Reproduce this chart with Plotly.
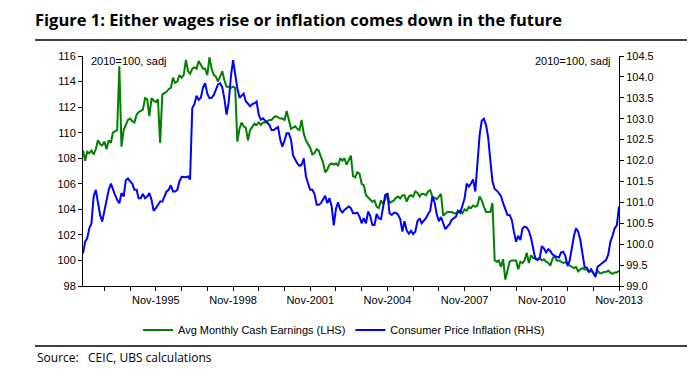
import pandas as pd
import plotly.graph_objects as go

# ---------------- data (monthly, Jan-1993 .. Nov-2013) ----------------
start_month = "1993-01-01"

wages = [
    # 1993
    108.6, 107.8, 108.5, 108.4, 108.6, 108.3, 108.7, 109.4, 109.1, 109.0, 109.3, 108.7,
    # 1994
    109.4, 109.2, 110.0, 110.1, 110.2, 115.2, 108.9, 110.2, 110.6, 111.0, 111.1, 110.9,
    # 1995
    110.8, 111.4, 111.6, 111.7, 111.8, 112.7, 112.6, 111.3, 112.7, 112.5, 112.4, 112.6,
    # 1996
    109.2, 113.0, 113.1, 113.2, 113.4, 113.5, 114.3, 113.9, 114.0, 114.5, 114.3, 114.5,
    # 1997
    115.7, 114.8, 114.6, 115.0, 115.1, 115.0, 115.6, 115.3, 115.0, 115.0, 114.5, 115.9,
    # 1998
    115.0, 114.5, 114.4, 114.0, 114.4, 114.8, 114.1, 113.6, 113.6, 113.5, 113.6, 113.5,
    # 1999
    109.3, 110.3, 110.8, 110.5, 110.4, 109.4, 110.2, 110.5, 110.7, 110.6, 110.8, 110.6,
    # 2000
    110.8, 110.8, 110.9, 111.0, 111.0, 111.2, 111.3, 111.2, 111.1, 111.1, 111.0, 111.7,
    # 2001
    111.0, 110.3, 110.4, 110.5, 110.3, 110.2, 111.0, 109.9, 109.4, 109.1, 108.8, 108.3,
    # 2002
    108.4, 108.7, 108.6, 108.1, 107.7, 106.9, 107.1, 107.5, 107.6, 107.5, 107.6, 107.4,
    # 2003
    108.0, 107.8, 108.0, 107.5, 107.9, 108.2, 106.6, 106.5, 106.9, 106.8, 106.0, 105.9,
    # 2004
    105.1, 104.9, 104.8, 104.6, 104.7, 104.2, 104.1, 104.7, 104.4, 104.8, 105.2, 104.5,
    # 2005
    104.6, 104.7, 104.9, 105.0, 104.85, 105.1, 105.1, 104.6, 105.0, 105.1, 105.0, 105.4,
    # 2006
    105.3, 105.0, 105.2, 105.2, 105.1, 105.4, 105.5, 105.0, 104.9, 104.8, 105.0, 105.2,
    # 2007
    103.5, 103.7, 103.8, 103.8, 103.8, 103.7, 103.7, 103.8, 103.9, 103.7, 104.0, 103.9,
    # 2008
    104.2, 104.1, 104.3, 104.2, 104.3, 105.0, 104.7, 104.2, 103.8, 103.8, 103.8, 104.5,
    # 2009
    100.0, 99.9, 100.0, 99.5, 100.1, 98.5, 99.2, 99.9, 100.0, 100.0, 100.0, 99.3,
    # 2010
    99.9, 99.8, 100.0, 100.6, 99.8, 100.4, 100.2, 100.2, 100.1, 100.2, 100.0, 100.1,
    # 2011
    99.9, 99.8, 99.6, 100.1, 100.4, 100.0, 100.0, 99.9, 99.8, 99.85, 99.8, 99.6,
    # 2012
    99.5, 99.4, 99.5, 99.15, 99.3, 99.4, 99.3, 99.3, 99.1, 99.2, 99.0, 98.8,
    # 2013
    99.2, 99.0, 99.0, 99.1, 99.1, 99.2, 99.05, 98.95, 99.05, 99.05, 99.2,
]

cpi = [
    # 1993
    99.78, 100.06, 100.14, 100.38, 100.5, 101.14, 101.3, 101.0, 100.7, 100.54, 100.82, 101.1,
    # 1994
    101.3, 101.45, 101.3, 101.18, 101.06, 100.98, 101.22, 101.14, 101.53, 101.57, 101.5, 101.45,
    # 1995
    101.3, 101.3, 101.1, 101.1, 101.2, 101.1, 101.14, 101.22, 101.06, 100.8, 100.86, 100.95,
    # 1996
    101.02, 101.02, 101.14, 101.26, 101.3, 101.41, 101.26, 101.26, 101.3, 101.5, 101.61, 101.61,
    # 1997
    101.6, 101.62, 101.55, 103.25, 103.35, 103.55, 103.45, 103.5, 103.75, 103.85, 103.6, 103.49,
    # 1998
    103.5, 103.57, 103.69, 103.82, 103.85, 103.75, 103.48, 103.1, 103.4, 104.0, 104.4, 104.05,
    # 1999
    103.73, 103.5, 103.55, 103.6, 103.42, 103.37, 103.3, 103.35, 103.37, 103.41, 103.09, 102.98,
    # 2000
    103.01, 102.95, 102.9, 102.85, 102.73, 102.73, 102.77, 102.8, 102.5, 102.33, 102.48, 102.65,
    # 2001
    102.65, 102.5, 102.13, 102.03, 101.93, 101.87, 101.9, 102.05, 101.62, 101.45, 101.3, 101.3,
    # 2002
    101.2, 100.94, 100.94, 100.98, 101.06, 101.16, 100.98, 101.1, 100.9, 100.45, 100.85, 101.0,
    # 2003
    100.82, 100.76, 100.82, 100.86, 100.9, 100.86, 100.74, 100.74, 100.75, 100.66, 100.5, 100.62,
    # 2004
    100.5, 100.78, 100.68, 100.46, 100.46, 100.72, 100.62, 100.6, 100.94, 101.18, 101.2, 100.74,
    # 2005
    100.7, 100.75, 100.75, 100.7, 100.6, 100.3, 100.55, 100.33, 100.25, 100.32, 100.24, 100.3,
    # 2006
    100.55, 100.62, 100.5, 100.56, 100.62, 100.72, 100.8, 101.14, 101.0, 100.72, 100.55, 100.65,
    # 2007
    100.5, 100.36, 100.42, 100.48, 100.58, 100.62, 100.66, 100.8, 100.75, 100.92, 101.1, 101.45,
    # 2008
    101.38, 101.45, 101.55, 101.26, 101.85, 102.6, 102.95, 103.0, 102.85, 102.55, 102.0, 101.5,
    # 2009
    101.32, 101.28, 101.22, 101.15, 100.98, 100.85, 100.7, 100.7, 100.58, 100.3, 100.06, 100.2,
    # 2010
    100.1, 100.38, 100.42, 100.4, 100.32, 100.15, 99.9, 99.65, 99.62, 99.66, 99.95, 99.9,
    # 2011
    99.8, 99.88, 99.84, 99.76, 99.72, 99.7, 99.68, 99.8, 99.82, 99.72, 99.48, 99.6,
    # 2012
    99.95, 100.2, 100.38, 100.3, 100.1, 99.7, 99.45, 99.44, 99.34, 99.4, 99.3, 99.22,
    # 2013
    99.46, 99.5, 99.54, 99.58, 99.62, 99.75, 100.05, 100.2, 100.38, 100.45, 100.9,
]

major_ticks = ["1995-11-01", "1998-11-01", "2001-11-01", "2004-11-01",
               "2007-11-01", "2010-11-01", "2013-11-01"]
major_labels = ["Nov-1995", "Nov-1998", "Nov-2001", "Nov-2004",
                "Nov-2007", "Nov-2010", "Nov-2013"]
minor_ticks = ["1993-11-01", "1994-11-01", "1996-11-01", "1997-11-01",
               "1999-11-01", "2000-11-01", "2002-11-01", "2003-11-01",
               "2005-11-01", "2006-11-01", "2008-11-01", "2009-11-01",
               "2011-11-01", "2012-11-01"]

left_ticks = [98, 100, 102, 104, 106, 108, 110, 112, 114, 116]
right_ticks = [99.0, 99.5, 100.0, 100.5, 101.0, 101.5, 102.0, 102.5, 103.0, 103.5, 104.0, 104.5]

dates = pd.date_range(start_month, periods=len(wages), freq="MS")

GREEN = "#008000"
BLUE = "#0000FF"
FONT = "Liberation Sans, Arial, sans-serif"
HUM = "Open Sans, sans-serif"

# page body has an 8px margin: figure is 692x368 so it fits the window
OFF = 8
W, H = 700 - OFF, 376 - OFF
PL, PR, PT, PB = 83, 619, 56, 286          # plot area in window pixels
PW, PH = PR - PL, PB - PT


def px_x(x):
    return (x - PL) / PW


def px_y(y):
    return (PB - y) / PH


fig = go.Figure()
fig.add_trace(go.Scatter(x=dates, y=wages, mode="lines",
                         name="Avg Monthly Cash Earnings (LHS)",
                         line=dict(color=GREEN, width=2)))
fig.add_trace(go.Scatter(x=dates, y=cpi, mode="lines", yaxis="y2",
                         name="Consumer Price Inflation (RHS)",
                         line=dict(color=BLUE, width=2)))

axis_common = dict(showgrid=False, zeroline=False, showline=True,
                   linecolor="black", linewidth=1, ticks="outside",
                   ticklen=4, tickcolor="black",
                   tickfont=dict(family=FONT, size=11, color="black"))

fig.update_layout(
    width=W, height=H,
    margin=dict(l=PL - OFF, r=W - (PR - OFF), t=PT - OFF, b=H - (PB - OFF)),
    paper_bgcolor="white", plot_bgcolor="white",
    font=dict(family=FONT, size=11, color="black"),
    showlegend=True,
    legend=dict(orientation="h", x=0.487, xanchor="center", y=px_y(330),
                yanchor="middle", itemwidth=30,
                font=dict(family=FONT, size=11, color="black"),
                bgcolor="rgba(0,0,0,0)", traceorder="normal"),
    xaxis=dict(type="date", range=[dates[0], dates[-1]],
               tickvals=major_ticks, ticktext=major_labels,
               minor=dict(tickvals=minor_ticks, ticks="outside", ticklen=4,
                          tickcolor="black"),
               **axis_common),
    yaxis=dict(range=[98, 116], tickvals=left_ticks, **axis_common),
    yaxis2=dict(range=[99, 104.5], tickvals=right_ticks, tickformat=".1f",
                overlaying="y", side="right", **axis_common),
    title=dict(text="<b>Figure 1: Either wages rise or inflation comes down in the future</b>",
               x=(35 - OFF) / W, xanchor="left", xref="container",
               y=1 - (20 - OFF) / H, yanchor="middle", yref="container",
               font=dict(family=HUM, size=16.5, color="black")),
)

fig.add_annotation(text="2010=100, sadj", xref="paper", yref="paper",
                   x=0, y=1, xanchor="left", yanchor="middle",
                   xshift=6, yshift=-5, showarrow=False,
                   font=dict(family=FONT, size=11, color="black"))
fig.add_annotation(text="2010=100, sadj", xref="paper", yref="paper",
                   x=1, y=1, xanchor="right", yanchor="middle",
                   xshift=-6, yshift=-5, showarrow=False,
                   font=dict(family=FONT, size=11, color="black"))
fig.add_annotation(text="Source:   CEIC, UBS calculations", xref="paper", yref="paper",
                   x=px_x(35), y=px_y(357), xanchor="left",
                   yanchor="middle", showarrow=False,
                   font=dict(family=HUM, size=12, color="black"))

for ypix in (40, 346):
    fig.add_shape(type="line", xref="paper", yref="paper",
                  x0=px_x(35), x1=px_x(687),
                  y0=px_y(ypix), y1=px_y(ypix),
                  line=dict(color="black", width=1.5))

fig.write_html("out.html")
